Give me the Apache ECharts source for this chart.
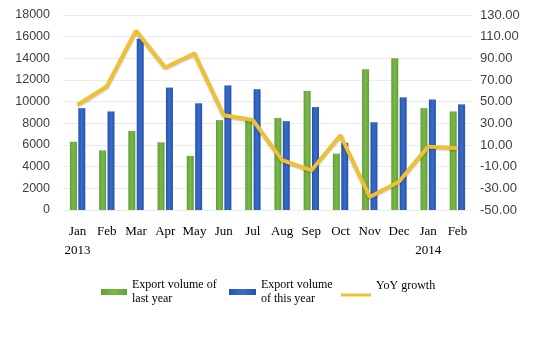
<!DOCTYPE html>
<html>
<head>
<meta charset="utf-8">
<script src="https://cdn.jsdelivr.net/npm/echarts@6/dist/echarts.min.js"></script>
<style>html,body{margin:0;padding:0;background:#fff}#c{width:537px;height:346px}</style>
</head>
<body>
<div id="c"></div>
<script>
var months = ['Jan\n2013','Feb','Mar','Apr','May','Jun','Jul','Aug','Sep','Oct','Nov','Dec','Jan\n2014','Feb'];
var lastYear = [6300,5500,7300,6250,5000,8300,8250,8500,11000,5200,13000,14000,9400,9100];
var thisYear = [9400,9100,15800,11300,9850,11500,11150,8200,9500,6200,8100,10400,10200,9750];
var yoy = [47,64,115.5,81.5,94.5,37.5,33,-4,-13.5,19,-38,-24,8.5,7];
var names = ['Export volume of\nlast year','Export volume\nof this year','YoY growth'];

var chart = echarts.init(document.getElementById('c'));
var legText = {fontFamily:'Liberation Serif', fontSize:12, color:'#000', lineHeight:14};
chart.setOption({
  animation:false,
  grid:{left:63,right:65,top:15,bottom:136},
  legend:[
    {data:[names[0]], left:101, top:278, padding:0, itemWidth:26, itemHeight:6, itemGap:0, icon:'rect',
     textStyle:legText},
    {data:[names[1]], left:229, top:278, padding:0, itemWidth:27, itemHeight:6, itemGap:0, icon:'rect',
     textStyle:legText},
    {data:[names[2]], left:341, top:280, padding:0, itemWidth:30, itemHeight:3, itemGap:0, icon:'rect',
     formatter:function(n){return '{a|'+n+'}\n{b| }';},
     textStyle:{fontFamily:'Liberation Serif', fontSize:12, color:'#000',
       rich:{a:{fontFamily:'Liberation Serif',fontSize:12,color:'#000',lineHeight:14},
             b:{fontSize:12,lineHeight:18}}}}
  ],
  xAxis:{type:'category',data:months,
    axisLine:{show:false},axisTick:{show:false},
    axisLabel:{fontFamily:'Liberation Serif',fontSize:13,color:'#000',lineHeight:19,margin:12,interval:0}},
  yAxis:[
    {type:'value',min:0,max:18000,interval:2000,
     axisLine:{show:false},axisTick:{show:false},
     axisLabel:{fontFamily:'Liberation Sans',fontSize:12.5,color:'#404040',margin:13,
       formatter:function(v){return String(v);}},
     splitLine:{lineStyle:{color:'#ebebeb'}}},
    {type:'value',min:-50,max:130,interval:20,
     axisLine:{show:false},axisTick:{show:false},
     axisLabel:{fontFamily:'Liberation Sans',fontSize:13,color:'#404040',margin:8,
       formatter:function(v){return v.toFixed(2);}},
     splitLine:{show:false}}
  ],
  series:[
    {name:names[0],type:'bar',data:lastYear,barWidth:7,barGap:'20%',
     itemStyle:{color:new echarts.graphic.LinearGradient(0,0,1,0,[{offset:0,color:'#60a036'},{offset:0.5,color:'#7ab84a'},{offset:1,color:'#60a036'}])}},
    {name:names[1],type:'bar',data:thisYear,barWidth:7,
     itemStyle:{color:new echarts.graphic.LinearGradient(0,0,1,0,[{offset:0,color:'#2553b0'},{offset:0.5,color:'#3a6cc8'},{offset:1,color:'#2553b0'}])}},
    {name:names[2],type:'line',yAxisIndex:1,data:yoy,symbol:'none',
     lineStyle:{color:'#f0c034',width:4,shadowColor:'rgba(0,0,0,0.25)',shadowBlur:2,shadowOffsetY:1},
     itemStyle:{color:'#f0c034'}}
  ]
});
</script>
</body>
</html>
